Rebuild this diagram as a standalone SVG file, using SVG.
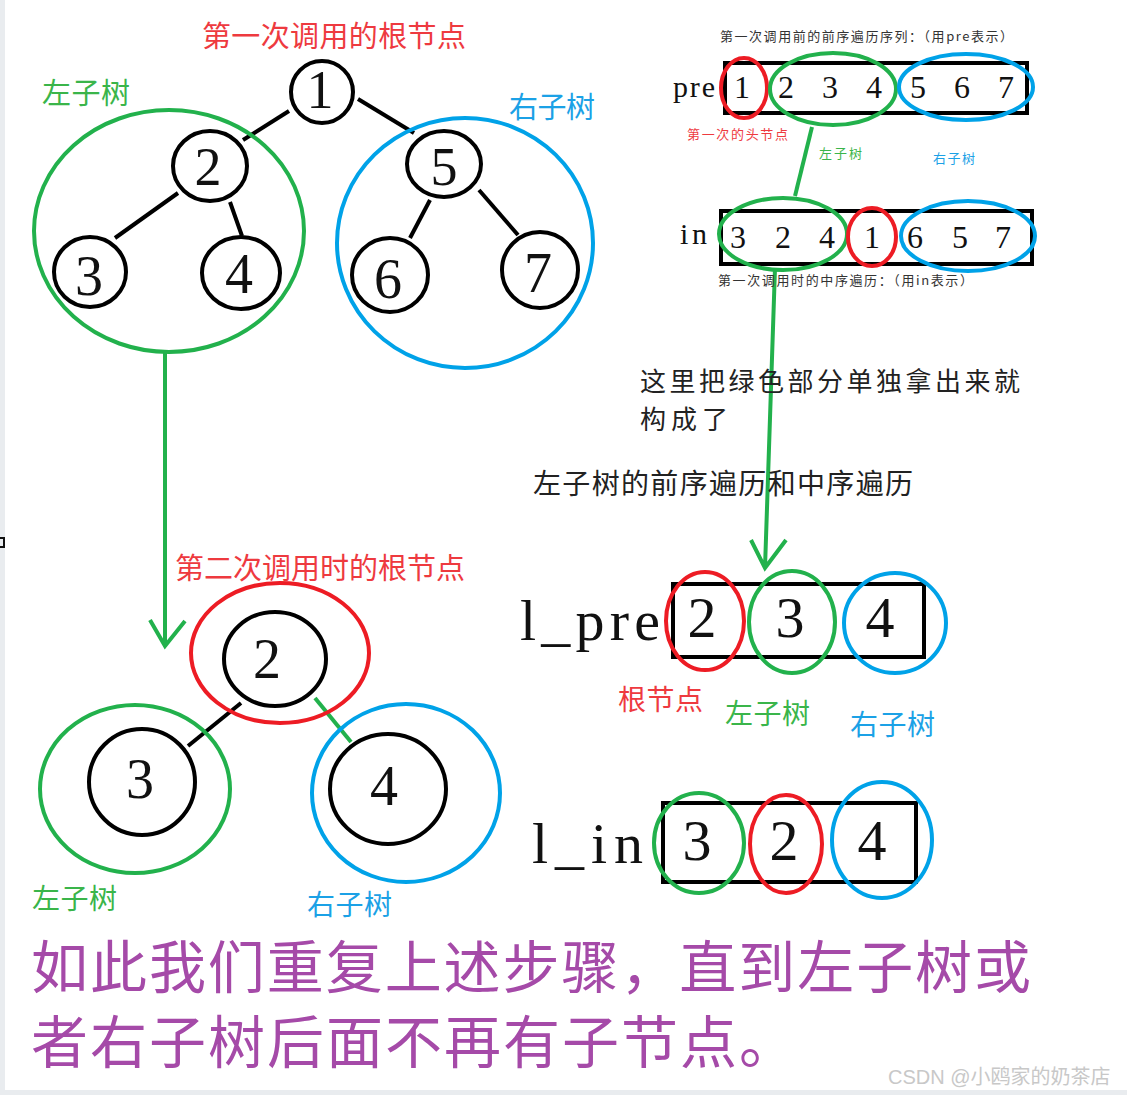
<svg xmlns="http://www.w3.org/2000/svg" width="1127" height="1095" viewBox="0 0 1127 1095">
<style>
.node{fill:#fff;stroke:#000;stroke-width:4}
.edge{stroke:#000;stroke-width:4;fill:none}
.r{fill:none;stroke:#ed1c24;stroke-width:4}
.g{fill:none;stroke:#22b14c;stroke-width:4}
.b{fill:none;stroke:#00a2e8;stroke-width:4}
.box{fill:none;stroke:#000;stroke-width:4}
.dig{font-family:"Liberation Serif",serif;fill:#111;text-anchor:middle}
.cjk{font-family:"Noto Sans CJK SC",sans-serif}
.tr{fill:#ee3a3f}
.tg{fill:#3ab54a}
.tb{fill:#1ba1e6}
</style>
<rect width="1127" height="1095" fill="#fff"/>
<rect x="0" y="0" width="5" height="1095" fill="#e9ecef"/>
<rect x="0" y="1090" width="1127" height="5" fill="#e9ecef"/>
<rect x="-1" y="538" width="5" height="9" fill="none" stroke="#111" stroke-width="2"/>

<g id="connectors">
<line class="edge" x1="289" y1="111" x2="243" y2="140"/>
<line class="edge" x1="358" y1="99" x2="414" y2="133"/>
<line class="edge" x1="178" y1="193" x2="115" y2="238"/>
<line class="edge" x1="230" y1="202" x2="242" y2="236"/>
<line class="edge" x1="430" y1="200" x2="410" y2="238"/>
<line class="edge" x1="479" y1="190" x2="518" y2="235"/>
<line class="edge" x1="241" y1="703" x2="188" y2="746"/>
<line x1="315" y1="698" x2="351" y2="742" stroke="#22b14c" stroke-width="4"/>
<path d="M165 352 L165 646 M150 620 L165 646 L185 621" fill="none" stroke="#22b14c" stroke-width="4"/>
<path d="M812 127 L795 196" fill="none" stroke="#22b14c" stroke-width="4"/>
<path d="M775 268 L765 568 M751 540 L765 568 L786 540" fill="none" stroke="#22b14c" stroke-width="4"/>
</g>

<g id="tree1-labels">
<text class="cjk tr" x="202" y="47" font-size="29" textLength="264">第一次调用的根节点</text>
<text class="cjk tg" x="42" y="104" font-size="29" textLength="88">左子树</text>
<text class="cjk tb" x="509" y="118" font-size="29" textLength="86">右子树</text>
</g>

<g id="tree1-groups">
<ellipse class="g" cx="169" cy="231" rx="135" ry="121"/>
<ellipse class="b" cx="465" cy="243" rx="128" ry="125"/>
</g>

<g id="n1"><circle class="node" cx="322" cy="92" r="31"/><text class="dig" x="320" y="108" font-size="54">1</text></g>
<g id="n2"><ellipse class="node" cx="210" cy="166" rx="37" ry="35"/><text class="dig" x="208" y="185" font-size="54">2</text></g>
<g id="n3"><ellipse class="node" cx="90" cy="272" rx="36" ry="35"/><text class="dig" x="89" y="295" font-size="56">3</text></g>
<g id="n4"><ellipse class="node" cx="241" cy="273" rx="39" ry="36"/><text class="dig" x="239" y="293" font-size="56">4</text></g>
<g id="n5"><ellipse class="node" cx="444" cy="164" rx="37" ry="33"/><text class="dig" x="444" y="185" font-size="54">5</text></g>
<g id="n6"><ellipse class="node" cx="390" cy="275" rx="38" ry="37"/><text class="dig" x="388" y="298" font-size="56">6</text></g>
<g id="n7"><ellipse class="node" cx="540" cy="270" rx="38" ry="38"/><text class="dig" x="538" y="292" font-size="56">7</text></g>

<g id="pre-array">
<text class="cjk" x="720" y="41" font-size="13" fill="#333" textLength="293">第一次调用前的前序遍历序列：（用pre表示）</text>
<text x="673" y="97" font-family="Liberation Serif,serif" font-size="30" fill="#111" textLength="42">pre</text>
<rect class="box" x="725" y="63" width="302" height="50"/>
<text class="dig" x="742" y="98" font-size="32">1</text>
<text class="dig" x="786" y="98" font-size="32">2</text>
<text class="dig" x="830" y="98" font-size="32">3</text>
<text class="dig" x="874" y="98" font-size="32">4</text>
<text class="dig" x="918" y="98" font-size="32">5</text>
<text class="dig" x="962" y="98" font-size="32">6</text>
<text class="dig" x="1006" y="98" font-size="32">7</text>
<ellipse class="r" cx="744" cy="88" rx="23" ry="30"/>
<ellipse class="g" cx="833" cy="89" rx="63" ry="36"/>
<ellipse class="b" cx="966" cy="87" rx="67" ry="33"/>
<text class="cjk tr" x="687" y="139" font-size="13" textLength="101">第一次的头节点</text>
<text class="cjk tg" x="819" y="158" font-size="13" textLength="43">左子树</text>
<text class="cjk tb" x="933" y="163" font-size="13" textLength="42">右子树</text>
</g>

<g id="in-array">
<text x="680" y="244" font-family="Liberation Serif,serif" font-size="30" fill="#111" textLength="27">in</text>
<rect class="box" x="721" y="211" width="311" height="53"/>
<text class="dig" x="738" y="248" font-size="32">3</text>
<text class="dig" x="783" y="248" font-size="32">2</text>
<text class="dig" x="827" y="248" font-size="32">4</text>
<text class="dig" x="872" y="248" font-size="32">1</text>
<text class="dig" x="915" y="248" font-size="32">6</text>
<text class="dig" x="960" y="248" font-size="32">5</text>
<text class="dig" x="1003" y="248" font-size="32">7</text>
<ellipse class="g" cx="783" cy="234" rx="64" ry="36"/>
<ellipse class="r" cx="872" cy="237" rx="24" ry="29"/>
<ellipse class="b" cx="968" cy="236" rx="67" ry="35"/>
<text class="cjk" x="718" y="285" font-size="13" fill="#333" textLength="255">第一次调用时的中序遍历：（用in表示）</text>
</g>

<g id="explain">
<text class="cjk" x="640" y="391" font-size="26" fill="#222" textLength="380">这里把绿色部分单独拿出来就</text>
<text class="cjk" x="640" y="429" font-size="26" fill="#222" textLength="88">构成了</text>
<text class="cjk" x="533" y="494" font-size="28" fill="#222" textLength="380">左子树的前序遍历和中序遍历</text>
</g>

<g id="tree2">
<text class="cjk tr" x="175" y="579" font-size="29" textLength="290">第二次调用时的根节点</text>
<ellipse class="r" cx="280" cy="653" rx="89" ry="70"/>
<ellipse class="g" cx="135" cy="789" rx="95" ry="84"/>
<ellipse class="b" cx="406" cy="793" rx="94" ry="89"/>
<text class="cjk tg" x="32" y="909" font-size="28" textLength="85">左子树</text>
<text class="cjk tb" x="307" y="915" font-size="28" textLength="85">右子树</text>
</g>
<g id="m2"><ellipse class="node" cx="275" cy="659" rx="51" ry="47"/><text class="dig" x="267" y="678" font-size="56">2</text></g>
<g id="m3"><ellipse class="node" cx="142" cy="782" rx="53" ry="53"/><text class="dig" x="140" y="798" font-size="56">3</text></g>
<g id="m4"><ellipse class="node" cx="388" cy="789" rx="58" ry="55"/><text class="dig" x="384" y="805" font-size="56">4</text></g>

<g id="lpre">
<text x="520" y="640" font-family="Liberation Serif,serif" font-size="58" fill="#111" textLength="140">l_pre</text>
<rect class="box" x="673" y="584" width="251" height="73"/>
<text class="dig" x="702" y="637" font-size="58">2</text>
<text class="dig" x="790" y="637" font-size="58">3</text>
<text class="dig" x="880" y="637" font-size="58">4</text>
<ellipse class="r" cx="705" cy="621" rx="39" ry="49"/>
<ellipse class="g" cx="792" cy="622" rx="43" ry="51"/>
<ellipse class="b" cx="895" cy="623" rx="51" ry="50"/>
<text class="cjk tr" x="618" y="710" font-size="28" textLength="85">根节点</text>
<text class="cjk tg" x="725" y="724" font-size="28" textLength="85">左子树</text>
<text class="cjk tb" x="850" y="735" font-size="28" textLength="85">右子树</text>
</g>

<g id="lin">
<text x="532" y="863" font-family="Liberation Serif,serif" font-size="58" fill="#111" textLength="111">l_in</text>
<rect class="box" x="663" y="803" width="253" height="79"/>
<text class="dig" x="697" y="860" font-size="58">3</text>
<text class="dig" x="784" y="860" font-size="58">2</text>
<text class="dig" x="872" y="860" font-size="58">4</text>
<ellipse class="g" cx="699" cy="843" rx="45" ry="50"/>
<ellipse class="r" cx="786" cy="844" rx="36" ry="49"/>
<ellipse class="b" cx="882" cy="840" rx="50" ry="58"/>
</g>

<g id="summary">
<text class="cjk" x="31" y="988" font-size="57" fill="#a54aa8" textLength="1000">如此我们重复上述步骤，直到左子树或</text>
<text class="cjk" x="31" y="1063" font-size="57" fill="#a54aa8" textLength="765">者右子树后面不再有子节点。</text>
</g>

<text x="888" y="1084" font-family="Liberation Sans,Noto Sans CJK SC,sans-serif" font-size="20" fill="#c8c8c8">CSDN @小鸥家的奶茶店</text>
</svg>
